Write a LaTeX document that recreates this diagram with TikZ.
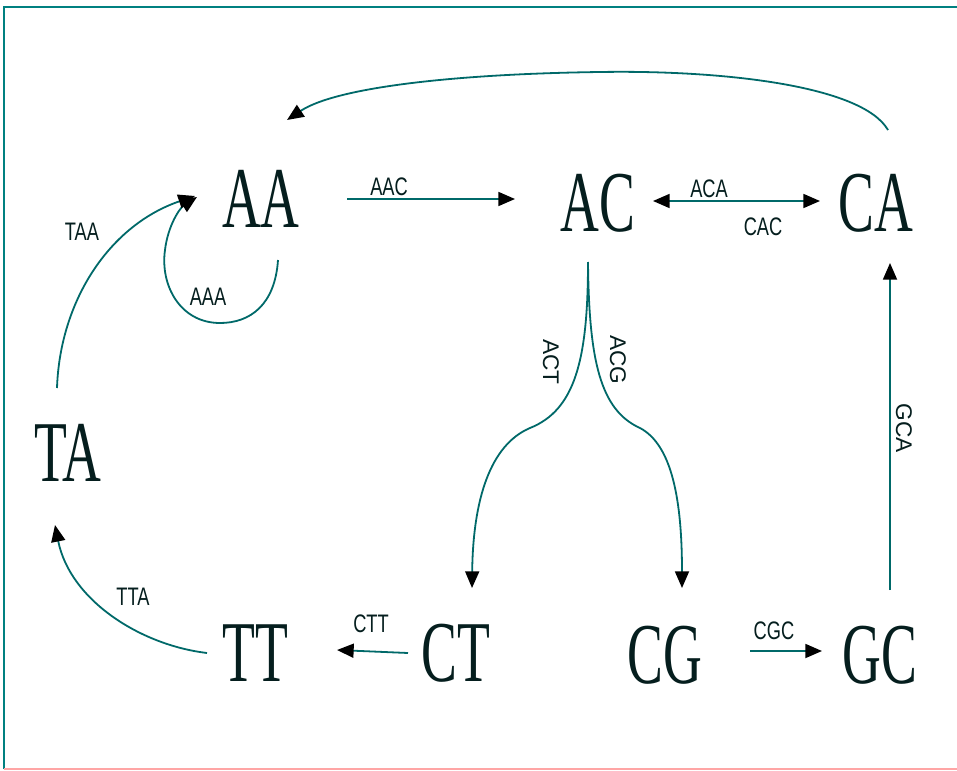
\documentclass[tikz,border=0pt]{standalone}
\usepackage{fontspec}
\usetikzlibrary{arrows.meta,calc}
\newfontfamily\bigf[FakeStretch=0.62]{Liberation Serif}
\newfontfamily\smallf[FakeStretch=0.72]{Liberation Sans}
\newfontfamily\rotf{Liberation Sans}
\definecolor{lc}{RGB}{0,105,105}
\definecolor{txt}{RGB}{5,30,30}
\definecolor{frametop}{RGB}{0,128,128}
\definecolor{framebot}{RGB}{255,165,165}
\tikzset{
  big/.style={font=\bigf\fontsize{65}{65}\selectfont, text=txt, inner sep=0pt},
  lab/.style={font=\smallf\fontsize{19}{19}\selectfont, text=txt, inner sep=0pt},
  rlab/.style={font=\rotf\fontsize{17}{17}\selectfont, text=txt, inner sep=0pt, rotate=-90},
  conn/.style={draw=lc, line width=1.35pt, -{Triangle[length=12.5pt,width=10.5pt,color=black]}},
  dconn/.style={draw=lc, line width=1.35pt, {Triangle[length=12.5pt,width=10.5pt,color=black]}-{Triangle[length=12.5pt,width=10.5pt,color=black]}}
}
\begin{document}
\begin{tikzpicture}[x=0.75pt,y=-0.75pt]
\useasboundingbox (0,0) rectangle (957,771);
\fill[white] (0,0) rectangle (957,771);
% frame
\draw[frametop, line width=1.6pt] (4,769) -- (4,7) -- (957,7);
\draw[framebot, line width=1.6pt] (4,769) -- (957,769);

% state nodes
\node[big] (AA) at (261,199) {AA};
\node[big] (AC) at (598,203) {AC};
\node[big] (CA) at (876,203) {CA};
\node[big] (TA) at (68,453) {TA};
\node[big] (TT) at (255,653) {TT};
\node[big] (CT) at (456,653) {CT};
\node[big] (CG) at (665,655) {CG};
\node[big] (GC) at (880,655) {GC};

% AA -> AC
\draw[conn] ($(AA)+(86,0)$) -- ($(AC)+(-83,-4)$);
\node[lab] (lAAC) at (389,187) {AAC};
% AC <-> CA
\draw[dconn] ($(AC)+(55,-2)$) -- ($(CA)+(-56,-2)$);
\node[lab] (lACA) at (709,189) {ACA};
\node[lab] (lCAC) at (763,227) {CAC};
% CA -> AA (big arc)
\draw[conn] ($(CA)+(12,-73)$) .. controls (862,85) and (720,70) .. (600,72)
  .. controls (450,74) and (335,88) .. ($(AA)+(26,-79)$);
% AA self loop
\draw[conn] ($(AA)+(17,61)$) .. controls (275,305) and (250,323) .. (220,323)
  .. controls (180,323) and (160,285) .. (165,250)
  .. controls (168,225) and (180,208) .. ($(AA)+(-64,-2)$);
\node[lab] (lAAA) at (208,297) {AAA};
% TA -> AA
\draw[conn] ($(TA)+(-11,-65)$) .. controls (60,300) and (110,225) .. ($(AA)+(-66,-3)$);
\node[lab] (lTAA) at (82,232) {TAA};
% TT -> TA
\draw[conn] ($(TT)+(-48,0)$) .. controls (140,645) and (70,600) .. ($(TA)+(-13,72)$);
\node[lab] (lTTA) at (133,597) {TTA};
% CT -> TT
\draw[conn] ($(CT)+(-48,0)$) -- ($(TT)+(82,-3)$);
\node[lab] (lCTT) at (371,624) {CTT};
% CG -> GC
\draw[conn] ($(CG)+(85,-4)$) -- ($(GC)+(-58,-4)$);
\node[lab] (lCGC) at (774,631) {CGC};
% GC -> CA
\draw[conn] ($(GC)+(10,-65)$) -- ($(CA)+(14,60)$);
\node[rlab] (lGCA) at (904,428) {GCA};
% AC -> CT and AC -> CG
\draw[conn] ($(AC)+(-10,59)$) .. controls (588,360) and (575,410) .. (530,428)
  .. controls (490,445) and (473,500) .. ($(CT)+(16,-65)$);
\draw[conn] ($(AC)+(-10,59)$) .. controls (589,360) and (600,410) .. (640,428)
  .. controls (672,445) and (682,500) .. ($(CG)+(17,-67)$);
\node[rlab] (lACT) at (551,362) {ACT};
\node[rlab] (lACG) at (618,360) {ACG};
\end{tikzpicture}
\end{document}
